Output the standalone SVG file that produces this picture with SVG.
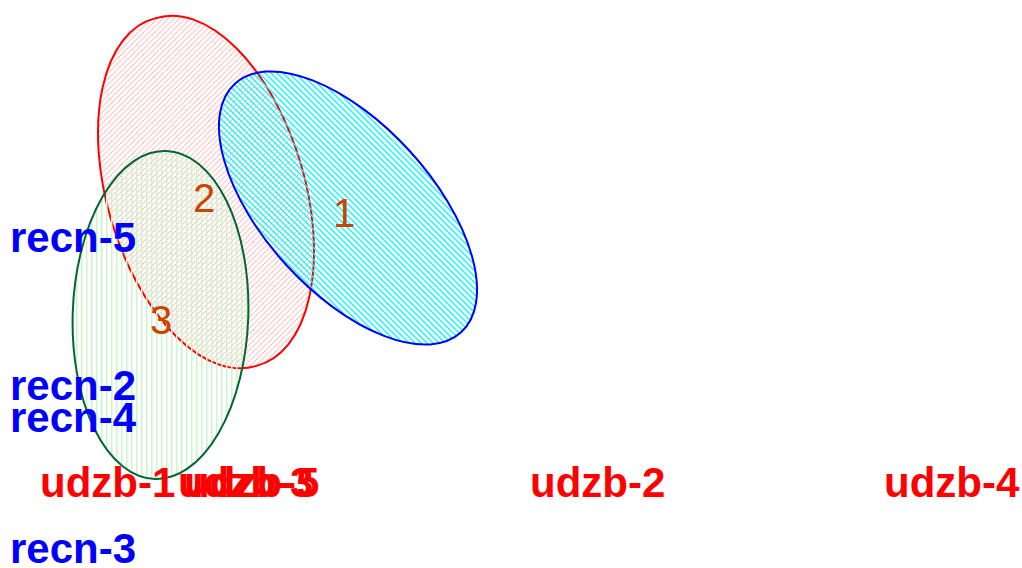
<svg xmlns="http://www.w3.org/2000/svg" width="1022" height="568" viewBox="0 0 1022 568">
<style>
.lab{font-family:"Liberation Sans",Arial,sans-serif;font-weight:bold;font-size:42px}
.rc{fill:#0000FF}
.ud{fill:#FF0000}
.num{font-family:"Liberation Sans",Arial,sans-serif;font-size:40px;fill:#CC4400;text-anchor:middle}
.hatch{fill:none}
.set{stroke-width:2}
</style>
<defs>
<pattern id="hRed" width="5.5" height="5.5" patternUnits="userSpaceOnUse">
<path class="hatch" d="M0,5.5 L5.5,0 M-1,1 L1,-1 M4.5,6.5 L6.5,4.5" stroke="#FFA0A0" stroke-width="0.9"/>
</pattern>
<pattern id="hCyan" width="6" height="6" patternUnits="userSpaceOnUse">
<path class="hatch" d="M0,0 L6,6 M-1,5 L1,7 M5,-1 L7,1" stroke="#00FFFF" stroke-width="1.3"/>
</pattern>
<pattern id="hGreen" width="5" height="10" patternUnits="userSpaceOnUse">
<rect x="1" y="0" width="1.5" height="10" fill="#CCF5CC"/>
</pattern>
</defs>
<rect width="1022" height="568" fill="#FFFFFF"/>
<g id="set-2">
<path class="set" d="M154.9,18.4 A97,181 -16.4 1 0 257.1,365.6 A97,181 -16.4 1 0 154.9,18.4 Z" fill="url(#hRed)" stroke="#FF0000"/>
</g>
<g id="set-1">
<path class="set" d="M234.9,83.7 A84,168 -42.3 1 0 461.1,332.3 A84,168 -42.3 1 0 234.9,83.7 Z" fill="url(#hCyan)" stroke="#0000FF"/>
</g>
<g id="set-3">
<path class="set" d="M166.2,151.1 A87.5,164 2 1 0 154.8,478.9 A87.5,164 2 1 0 166.2,151.1 Z" fill="url(#hGreen)" stroke="#006633"/>
</g>
<g id="connectors"></g>
<g id="numbers">
<text class="num" x="344" y="227">1</text>
<text class="num" x="204" y="212">2</text>
<text class="num" x="161" y="334">3</text>
</g>
<g id="recn">
<text class="lab rc" x="10" y="252">recn-5</text>
<text class="lab rc" x="10" y="400">recn-2</text>
<text class="lab rc" x="10" y="432">recn-4</text>
<text class="lab rc" x="10" y="563">recn-3</text>
</g>
<g id="udzb">
<text class="lab ud" x="40" y="497">udzb-1</text>
<text class="lab ud" x="178" y="497">udzb-3</text>
<text class="lab ud" x="184" y="497">udzb-5</text>
<text class="lab ud" x="530" y="497">udzb-2</text>
<text class="lab ud" x="884" y="497">udzb-4</text>
</g>
</svg>
